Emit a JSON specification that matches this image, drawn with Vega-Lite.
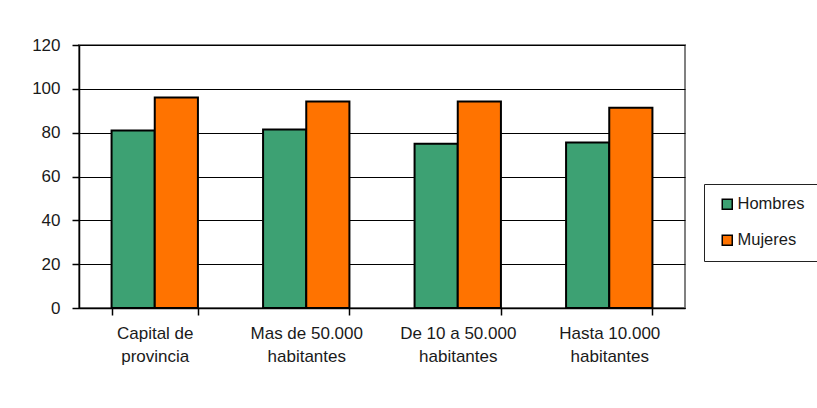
{
  "$schema": "https://vega.github.io/schema/vega-lite/v6.json",
  "autosize": {"type": "none"},
  "padding": {"left": 79, "top": 45, "right": 132, "bottom": 100},
  "width": 606,
  "height": 263,
  "background": "#ffffff",
  "config": {
    "font": "Liberation Sans",
    "view": {"stroke": "#808080", "strokeWidth": 2},
    "axis": {
      "labelFont": "Liberation Sans",
      "labelColor": "#1a1a1a",
      "labelFontSize": 17,
      "domainColor": "#000000",
      "domainWidth": 1.5,
      "tickColor": "#000000",
      "tickWidth": 1.5,
      "tickSize": 7,
      "title": null
    },
    "legend": {
      "labelFont": "Liberation Sans"
    }
  },
  "data": {
    "values": [
      {"categoria": "Capital de|provincia", "sexo": "Hombres", "valor": 81},
      {"categoria": "Capital de|provincia", "sexo": "Mujeres", "valor": 96},
      {"categoria": "Mas de 50.000|habitantes", "sexo": "Hombres", "valor": 81.4},
      {"categoria": "Mas de 50.000|habitantes", "sexo": "Mujeres", "valor": 94.2},
      {"categoria": "De 10 a 50.000|habitantes", "sexo": "Hombres", "valor": 74.9},
      {"categoria": "De 10 a 50.000|habitantes", "sexo": "Mujeres", "valor": 94.2},
      {"categoria": "Hasta 10.000|habitantes", "sexo": "Hombres", "valor": 75.5},
      {"categoria": "Hasta 10.000|habitantes", "sexo": "Mujeres", "valor": 91.4}
    ]
  },
  "mark": {"type": "bar", "stroke": "#000000", "strokeWidth": 2},
  "encoding": {
    "x": {
      "field": "categoria",
      "type": "nominal",
      "sort": null,
      "scale": {"paddingInner": 0.43, "paddingOuter": 0.215},
      "axis": {
        "labelAngle": 0,
        "tickBand": "extent",
        "labelPadding": 10,
        "labelLineHeight": 23,
        "labelBaseline": "top",
        "labelExpr": "split(datum.label, '|')"
      }
    },
    "xOffset": {"field": "sexo", "type": "nominal", "sort": ["Hombres", "Mujeres"]},
    "y": {
      "field": "valor",
      "type": "quantitative",
      "scale": {"domain": [0, 120]},
      "axis": {
        "values": [0, 20, 40, 60, 80, 100, 120],
        "grid": true,
        "gridColor": "#000000",
        "gridWidth": 1,
        "labelPadding": 12
      }
    },
    "fill": {
      "field": "sexo",
      "type": "nominal",
      "scale": {"domain": ["Hombres", "Mujeres"], "range": ["#3DA173", "#FF7300"]},
      "legend": {
        "title": null,
        "orient": "none",
        "legendX": 625,
        "legendY": 139,
        "padding": 12,
        "symbolOffset": 3,
        "symbolType": "square",
        "symbolSize": 100,
        "symbolStrokeColor": "#000000",
        "symbolStrokeWidth": 1.5,
        "labelFontSize": 16.5,
        "labelColor": "#1a1a1a",
        "labelOffset": 2,
        "rowPadding": 19,
        "strokeColor": "#222222"
      }
    }
  }
}
